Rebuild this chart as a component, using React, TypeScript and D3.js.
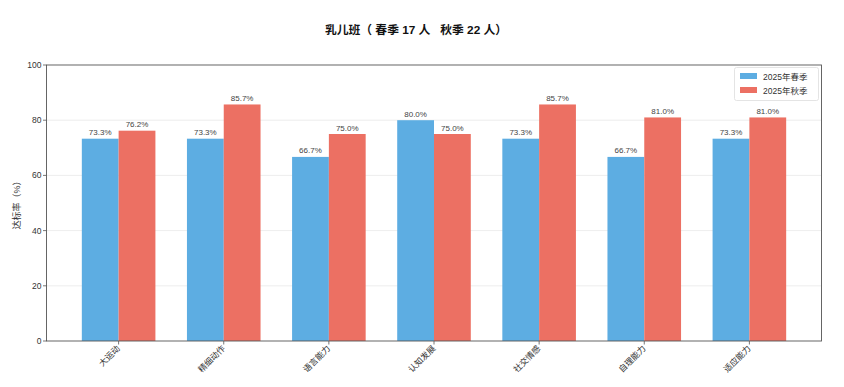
import React from "react";
import * as d3 from "d3";

const categories = ["大运动", "精细动作", "语言能力", "认知发展", "社交情感", "自理能力", "适应能力"];
const spring = [73.3, 73.3, 66.7, 80.0, 73.3, 66.7, 73.3];
const autumn = [76.2, 85.7, 75.0, 75.0, 85.7, 81.0, 81.0];
const seriesNames = ["2025年春季", "2025年秋季"];
const colors = ["#5DADE2", "#EC7063"];
const yTicks = [0, 20, 40, 60, 80, 100];
const title = "乳儿班（ 春季 17 人   秋季 22 人）";

const W = 844, H = 387;
const m = { left: 46.5, right: 821.5, top: 65, bottom: 341 };
const font = "'Liberation Sans', 'Noto Sans CJK SC', sans-serif";

export default function App() {
  const x = d3.scaleLinear().domain([-0.686, categories.length - 1 + 0.686]).range([m.left, m.right]);
  const y = d3.scaleLinear().domain([0, 100]).range([m.bottom, m.top]);
  const bw = x(0.35) - x(0);
  const series = [spring, autumn];
  return (
    <svg width={W} height={H} style={{ position: "absolute", left: 0, top: 0, background: "#fff" }} fontFamily={font}>
      <rect width={W} height={H} fill="#fff" />
      <text x={416} y={34} textAnchor="middle" fontSize={11.8} fontWeight="bold" fill="#111"
        fontFamily="'Liberation Sans', 'Noto Sans CJK SC', sans-serif" style={{ whiteSpace: "pre" }}>{title}</text>
      {yTicks.slice(1, -1).map(t => (
        <line key={t} x1={m.left} x2={m.right} y1={y(t)} y2={y(t)} stroke="#e8e8e8" strokeWidth={0.8} />
      ))}
      {series.map((s, si) => s.map((v, i) => {
        const x0 = x(i) + (si === 0 ? -bw : 0);
        return (
          <g key={si + "-" + i}>
            <rect x={x0} y={y(v)} width={bw} height={y(0) - y(v)} fill={colors[si]} />
            <text x={x0 + bw / 2} y={y(v) - 3.5} textAnchor="middle" fontSize={8} fill="#444">{v.toFixed(1)}%</text>
          </g>
        );
      }))}
      <rect x={m.left} y={m.top} width={m.right - m.left} height={m.bottom - m.top} fill="none" stroke="#555" strokeWidth={0.9} />
      {yTicks.map(t => (
        <g key={t}>
          <line x1={m.left - 3.5} x2={m.left} y1={y(t)} y2={y(t)} stroke="#555" strokeWidth={0.8} />
          <text x={m.left - 5} y={y(t) + 3} textAnchor="end" fontSize={8.5} fill="#333">{t}</text>
        </g>
      ))}
      {categories.map((c, i) => (
        <g key={c}>
          <line x1={x(i)} x2={x(i)} y1={m.bottom} y2={m.bottom + 3.5} stroke="#555" strokeWidth={0.8} />
          <text transform={`translate(${x(i) + 2},${m.bottom + 8}) rotate(-45)`} textAnchor="end" fontSize={8.5} fill="#333">{c}</text>
        </g>
      ))}
      <text transform={`translate(20,${(m.top + m.bottom) / 2}) rotate(-90)`} textAnchor="middle" fontSize={9} fill="#333">达标率（%）</text>
      <g>
        <rect x={734.5} y={67.5} width={84} height={33} fill="#fff" stroke="#ddd" strokeWidth={0.8} rx={2} />
        {seriesNames.map((n, i) => (
          <g key={n}>
            <rect x={740} y={73 + i * 14} width={17} height={6} fill={colors[i]} />
            <text x={763} y={79.5 + i * 14} fontSize={8.5} fill="#333">{n}</text>
          </g>
        ))}
      </g>
    </svg>
  );
}
